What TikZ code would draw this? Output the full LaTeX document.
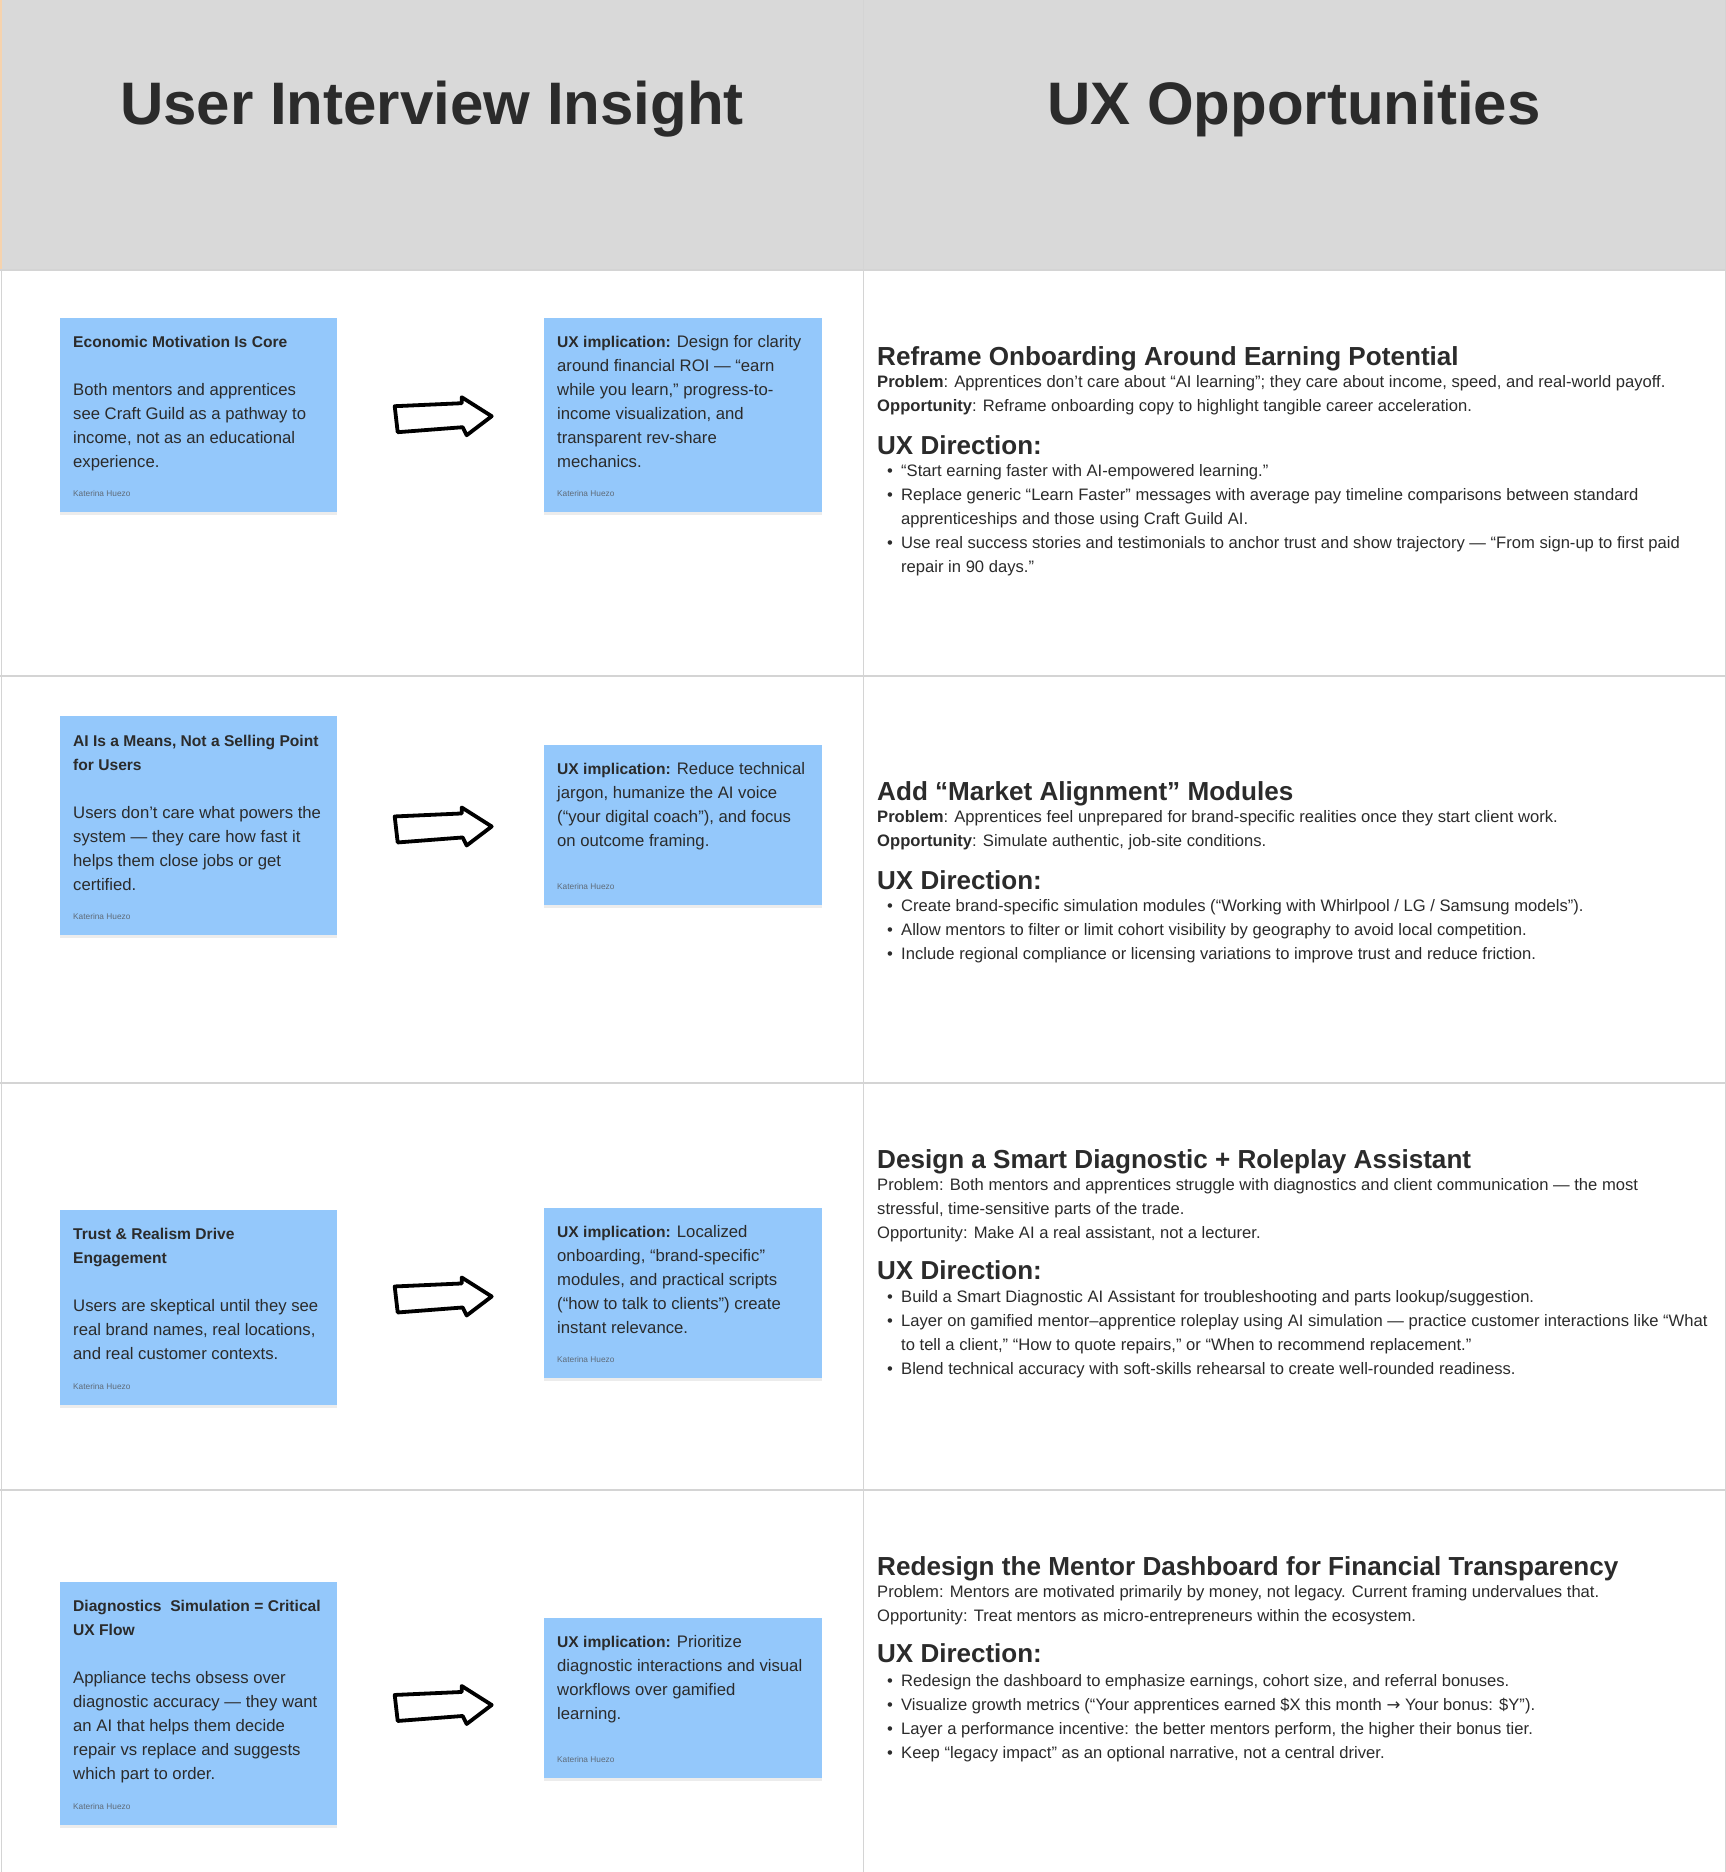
\documentclass[tikz,border=0pt]{standalone}
\usepackage{fontspec}
\setmainfont{Liberation Sans}
\newfontfamily\arrowfont{DejaVu Sans}
\usetikzlibrary{positioning,calc,shadows}
\definecolor{ink}{HTML}{2B2B2B}
\definecolor{headgrey}{HTML}{D9D9D9}
\definecolor{gridgrey}{HTML}{D4D4D4}
\definecolor{stickyblue}{RGB}{148,200,251}
\definecolor{signgrey}{HTML}{5F6B78}
\definecolor{peach}{HTML}{F6D3AE}
\tikzset{
  sticky/.style={rectangle, fill=stickyblue, anchor=north west, inner sep=0pt,
    drop shadow={shadow xshift=0pt, shadow yshift=-3pt, opacity=.15}},
  lines/.style={anchor=north west, inner sep=0pt, align=left, text=ink, yshift=16.8pt},
  notefont/.style={font=\fontsize{16.7}{24}\selectfont},
  bodyfont/.style={font=\fontsize{16.6}{24}\selectfont},
  signature/.style={anchor=base west, inner sep=0pt, text=signgrey, font=\fontsize{8.3}{10}\selectfont},
  coltitle/.style={anchor=base, inner sep=0pt, text=ink, font=\fontsize{60}{70}\selectfont\bfseries},
  opphead/.style={anchor=base west, inner sep=0pt, text=ink, font=\fontsize{26.1}{30}\selectfont\bfseries},
  uxhead/.style={anchor=base west, inner sep=0pt, text=ink, font=\fontsize{26}{30}\selectfont\bfseries},
  gridline/.style={draw=gridgrey, line width=1.5pt},
  handarrow/.pic={
    \draw[line width=3.8pt, line join=round, line cap=round, fill=white]
      (-48,-10) -- (19,-13) -- (19,-19) -- (49,0) -- (24,19) -- (20,11) -- (-45,16) -- cycle;
  }
}
\newcommand{\bl}[1]{\makebox[17pt][l]{\hspace{3pt}\textbullet}#1}
\newcommand{\bc}[1]{\hspace*{17pt}#1}
\newcommand{\ttl}[1]{{\fontsize{15.6}{24}\selectfont\bfseries #1}}

\begin{document}
\begin{tikzpicture}[x=1pt,y=-1pt]
  \useasboundingbox (0,0) rectangle (1726,1872);
  \fill[white] (0,0) rectangle (1726,1872);
  \fill[headgrey] (0,0) rectangle (1726,270);
  \draw[peach, line width=2pt] (1,0) -- (1,270);
  \draw[gridgrey, line width=1pt] (1,270) -- (1,1872);
  \draw[gridgrey, line width=1pt] (1725,0) -- (1725,1872);
  \draw[gridgrey, line width=1pt] (863,0) -- (863,1872);
  \foreach \y in {270,676,1083,1490} {
    \draw[gridline] (0,\y) -- (1726,\y);
  }

  \node[coltitle] (leftttl) at (432,124) {User Interview Insight};
  \node[coltitle] (rightttl) at (1294,124) {UX Opportunities};

  % row 1
  \node[sticky, minimum width=277pt, minimum height=194pt] (ins1) at (60,318) {};
  \node[lines, notefont] (ins1txt) at ([shift={(13,29)}]ins1.north west)
    {\strut\ttl{Economic Motivation Is Core}\\[24pt]Both mentors and apprentices\\see Craft Guild as a pathway to\\income, not as an educational\\experience.};
  \node[signature] (ins1sig) at ([shift={(13,-16)}]ins1.south west) {Katerina Huezo};
  \node[sticky, minimum width=278pt, minimum height=194pt] (imp1) at (544,318) {};
  \node[lines, notefont] (imp1txt) at ([shift={(13,29)}]imp1.north west)
    {\strut\ttl{UX implication:} Design for clarity\\around financial ROI — “earn\\while you learn,” progress-to-\\income visualization, and\\transparent rev-share\\mechanics.};
  \node[signature] (imp1sig) at ([shift={(13,-16)}]imp1.south west) {Katerina Huezo};
  \pic at ($(ins1.east)!.5!(imp1.west)+(2,1)$) {handarrow};

  \node[opphead] (opp1) at (877,365) {Reframe Onboarding Around Earning Potential};
  \node[lines, bodyfont] (opp1why) at (877,387.5)
    {\strut\textbf{Problem}: Apprentices don’t care about “AI learning”; they care about income, speed, and real-world payoff.\\\textbf{Opportunity}: Reframe onboarding copy to highlight tangible career acceleration.};
  \node[uxhead] (opp1ux) at (877,454) {UX Direction:};
  \node[lines, bodyfont] (opp1dir) at (884,476)
    {\strut\bl{“Start earning faster with AI-empowered learning.”}\\\bl{Replace generic “Learn Faster” messages with average pay timeline comparisons between standard}\\\bc{apprenticeships and those using Craft Guild AI.}\\\bl{Use real success stories and testimonials to anchor trust and show trajectory — “From sign-up to first paid}\\\bc{repair in 90 days.”}};

  % row 2
  \node[sticky, minimum width=277pt, minimum height=219pt] (ins2) at (60,716) {};
  \node[lines, notefont] (ins2txt) at ([shift={(13,30)}]ins2.north west)
    {\strut\ttl{AI Is a Means, Not a Selling Point}\\\ttl{for Users}\\[24pt]Users don’t care what powers the\\system — they care how fast it\\helps them close jobs or get\\certified.};
  \node[signature] (ins2sig) at ([shift={(13,-16)}]ins2.south west) {Katerina Huezo};
  \node[sticky, minimum width=278pt, minimum height=160pt] (imp2) at (544,745) {};
  \node[lines, notefont] (imp2txt) at ([shift={(13,29)}]imp2.north west)
    {\strut\ttl{UX implication:} Reduce technical\\jargon, humanize the AI voice\\(“your digital coach”), and focus\\on outcome framing.};
  \node[signature] (imp2sig) at ([shift={(13,-16)}]imp2.south west) {Katerina Huezo};
  \pic at ($(ins2.east)!.5!(imp2.west)+(2,1)$) {handarrow};

  \node[opphead] (opp2) at (877,800) {Add “Market Alignment” Modules};
  \node[lines, bodyfont] (opp2why) at (877,822)
    {\strut\textbf{Problem}: Apprentices feel unprepared for brand-specific realities once they start client work.\\\textbf{Opportunity}: Simulate authentic, job-site conditions.};
  \node[uxhead] (opp2ux) at (877,889) {UX Direction:};
  \node[lines, bodyfont] (opp2dir) at (884,911)
    {\strut\bl{Create brand-specific simulation modules (“Working with Whirlpool / LG / Samsung models”).}\\\bl{Allow mentors to filter or limit cohort visibility by geography to avoid local competition.}\\\bl{Include regional compliance or licensing variations to improve trust and reduce friction.}};

  % row 3
  \node[sticky, minimum width=277pt, minimum height=195pt] (ins3) at (60,1210) {};
  \node[lines, notefont] (ins3txt) at ([shift={(13,29)}]ins3.north west)
    {\strut\ttl{Trust \& Realism Drive}\\\ttl{Engagement}\\[24pt]Users are skeptical until they see\\real brand names, real locations,\\and real customer contexts.};
  \node[signature] (ins3sig) at ([shift={(13,-16)}]ins3.south west) {Katerina Huezo};
  \node[sticky, minimum width=278pt, minimum height=170pt] (imp3) at (544,1208) {};
  \node[lines, notefont] (imp3txt) at ([shift={(13,29)}]imp3.north west)
    {\strut\ttl{UX implication:} Localized\\onboarding, “brand-specific”\\modules, and practical scripts\\(“how to talk to clients”) create\\instant relevance.};
  \node[signature] (imp3sig) at ([shift={(13,-16)}]imp3.south west) {Katerina Huezo};
  \pic at ($(ins3.east)!.5!(imp3.west)+(2,-4)$) {handarrow};

  \node[opphead] (opp3) at (877,1168) {Design a Smart Diagnostic + Roleplay Assistant};
  \node[lines, bodyfont] (opp3why) at (877,1190)
    {\strut Problem: Both mentors and apprentices struggle with diagnostics and client communication — the most\\stressful, time-sensitive parts of the trade.\\Opportunity: Make AI a real assistant, not a lecturer.};
  \node[uxhead] (opp3ux) at (877,1279) {UX Direction:};
  \node[lines, bodyfont] (opp3dir) at (884,1302)
    {\strut\bl{Build a Smart Diagnostic AI Assistant for troubleshooting and parts lookup/suggestion.}\\\bl{Layer on gamified mentor–apprentice roleplay using AI simulation — practice customer interactions like “What}\\\bc{to tell a client,” “How to quote repairs,” or “When to recommend replacement.”}\\\bl{Blend technical accuracy with soft-skills rehearsal to create well-rounded readiness.}};

  % row 4
  \node[sticky, minimum width=277pt, minimum height=243pt] (ins4) at (60,1582) {};
  \node[lines, notefont] (ins4txt) at ([shift={(13,29)}]ins4.north west)
    {\strut\ttl{Diagnostics\ \ Simulation = Critical}\\\ttl{UX Flow}\\[24pt]Appliance techs obsess over\\diagnostic accuracy — they want\\an AI that helps them decide\\repair vs replace and suggests\\which part to order.};
  \node[signature] (ins4sig) at ([shift={(13,-16)}]ins4.south west) {Katerina Huezo};
  \node[sticky, minimum width=278pt, minimum height=160pt] (imp4) at (544,1618) {};
  \node[lines, notefont] (imp4txt) at ([shift={(13,29)}]imp4.north west)
    {\strut\ttl{UX implication:} Prioritize\\diagnostic interactions and visual\\workflows over gamified\\learning.};
  \node[signature] (imp4sig) at ([shift={(13,-16)}]imp4.south west) {Katerina Huezo};
  \pic at ($(ins4.east)!.5!(imp4.west)+(2,4)$) {handarrow};

  \node[opphead] (opp4) at (877,1575) {Redesign the Mentor Dashboard for Financial Transparency};
  \node[lines, bodyfont] (opp4why) at (877,1597)
    {\strut Problem: Mentors are motivated primarily by money, not legacy. Current framing undervalues that.\\Opportunity: Treat mentors as micro-entrepreneurs within the ecosystem.};
  \node[uxhead] (opp4ux) at (877,1662) {UX Direction:};
  \node[lines, bodyfont] (opp4dir) at (884,1686)
    {\strut\bl{Redesign the dashboard to emphasize earnings, cohort size, and referral bonuses.}\\\bl{Visualize growth metrics (“Your apprentices earned \$X this month {\arrowfont →} Your bonus: \$Y”).}\\\bl{Layer a performance incentive: the better mentors perform, the higher their bonus tier.}\\\bl{Keep “legacy impact” as an optional narrative, not a central driver.}};
\end{tikzpicture}
\end{document}
